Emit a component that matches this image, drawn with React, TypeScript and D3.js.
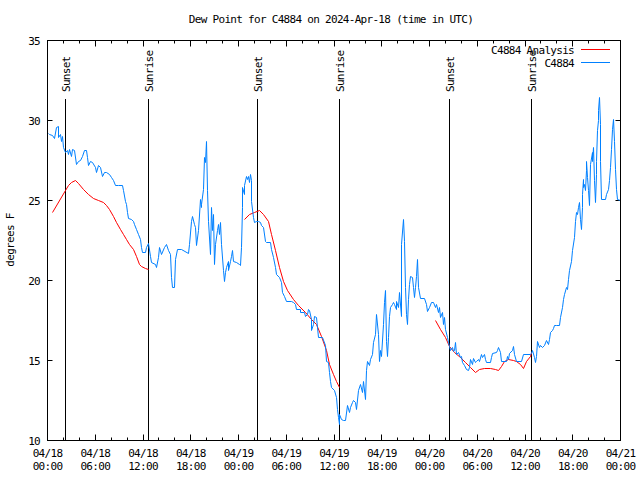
import React from 'react';
import * as d3 from 'd3';

const TITLE = 'Dew Point for C4884 on 2024-Apr-18 (time in UTC)';
const Y_LABEL = 'degrees F';
const START = Date.UTC(2024, 3, 18, 0, 0);
const END = Date.UTC(2024, 3, 21, 0, 0);
const Y_MIN = 10;
const Y_MAX = 35;
const yTicks = [10, 15, 20, 25, 30, 35];
const legendLabels = ['C4884 Analysis', 'C4884'];
const seriesColors = ['#ff0000', '#0080ff'];

const sunLabels = ['Sunset', 'Sunrise', 'Sunset', 'Sunrise', 'Sunset', 'Sunrise'];
const sunHours = [2.17, 12.6, 26.3, 36.6, 50.43, 60.73];

const stationHours = [
  0, 0.25, 0.54, 0.79, 1.01, 1.29, 1.38, 1.6, 1.72, 1.85,
  2.01, 2.22, 2.39, 2.55, 2.76, 2.98, 3.14, 3.3, 3.56, 3.81,
  4.06, 4.31, 4.56, 4.78, 4.94, 5.06, 5.28, 5.57, 5.91, 6.12,
  6.32, 6.62, 6.82, 7.04, 7.38, 7.67, 8.0, 8.29, 8.54, 8.83,
  9.39, 9.51, 9.68, 9.89, 9.97, 10.09, 10.43, 10.72, 10.93, 11.18,
  11.43, 11.6, 11.77, 11.85, 12.19,
  12.32, 12.6, 12.82, 13.03, 13.45, 13.66, 13.86, 14.07, 14.29, 14.58,
  14.83, 15.12, 15.33, 15.54, 15.67, 15.92, 16.08, 16.25, 16.8, 17.63,
  17.76, 18.06, 18.18, 18.35, 18.51, 18.69, 18.89, 19.1, 19.23, 19.35,
  19.51, 19.64, 19.77, 19.89, 20.02, 20.19, 20.36, 20.52, 20.7, 20.82,
  20.95, 21.07, 21.24, 21.4, 21.53, 21.7, 21.86, 22.03, 22.15, 22.28,
  22.46, 22.62, 22.74, 22.91, 23.08, 23.21, 23.37, 23.71, 24.04, 24.22,
  24.29, 24.38, 24.47, 24.63, 24.75, 24.88, 25.04, 25.17, 25.3, 25.47,
  25.55, 25.63, 25.8, 25.89, 26.14, 26.43, 26.73, 26.89, 27.14, 27.31,
  27.48, 27.9, 28.11, 28.31, 28.53, 28.74, 29.07, 29.28, 29.44, 29.69,
  30.0, 30.62, 30.82, 31.12, 31.25, 31.67, 31.79, 32.17, 32.33, 32.58,
  32.76, 32.92, 33.05, 33.17, 33.34, 33.51, 33.68, 33.84, 33.97, 34.52,
  34.81, 35.02, 35.22, 35.35, 35.52, 35.65, 35.94, 36.19, 36.35, 36.48,
  36.61, 36.69, 36.91, 37.11, 37.36, 37.61, 37.86, 38.04, 38.29, 38.45,
  38.62, 38.79, 39.04, 39.21, 39.46, 39.62, 39.84, 40.05, 40.17, 40.38,
  40.55, 40.8, 40.96, 41.18, 41.34, 41.47, 41.63, 41.81, 41.93, 42.13,
  42.26, 42.39, 42.51, 42.64, 42.76, 42.89, 43.06, 43.23, 43.39, 43.57,
  43.73, 43.82, 44.02, 44.23, 44.36, 44.48, 44.61, 44.74, 44.86, 44.99,
  45.15, 45.28, 45.4, 45.58, 45.74, 45.91, 46.03, 46.16, 46.33, 46.41,
  46.58, 46.75, 47.37, 47.59, 47.71, 47.92, 48.22, 48.42, 48.63, 48.84,
  49.05, 49.17, 49.35, 49.51, 49.67, 49.85, 50.01, 50.18, 50.35,
  50.43, 50.6, 50.77, 50.93, 51.11, 51.23, 51.36, 51.61, 51.77, 51.94,
  52.11, 52.36, 52.61, 52.78, 52.94, 53.12, 53.28, 53.44, 53.66, 53.87,
  54.07, 54.28, 54.45, 54.62, 54.79, 54.95, 55.13, 55.54, 55.71, 55.88,
  56.3, 56.46, 56.64, 56.8, 56.96, 57.55, 57.72, 57.89, 58.05, 58.31,
  58.47, 58.6, 58.81, 59.53, 59.81, 60.57, 60.78, 60.91, 61.07, 61.24,
  61.41, 61.57, 61.74, 61.91, 62.16, 62.41, 62.67, 62.83, 62.99, 63.17,
  63.33, 63.5, 63.67, 63.92, 64.25, 64.43, 64.59, 64.75, 64.93, 65.09,
  65.26, 65.43, 65.59, 65.76, 65.93, 66.1, 66.22, 66.35, 66.51, 66.64,
  66.76, 66.89, 67.01, 67.1, 67.19, 67.27, 67.35, 67.44, 67.52, 67.61,
  67.7, 67.77, 67.9, 68.02, 68.2, 68.36, 68.45, 68.52, 68.61, 68.74,
  68.86, 68.95, 69.03, 69.12, 69.2, 69.28, 69.37, 69.45, 69.53, 70.03,
  70.21, 70.37, 70.54, 70.66, 70.79, 70.91, 71.04, 71.17, 71.29, 71.47,
  71.59, 71.88,
];

const stationValues = [
  29.23, 29.13, 29.08, 28.92, 29.58, 29.63, 28.96, 29.13, 28.75, 29.06,
  28.33, 28.02, 28.17, 27.92, 28.23, 27.81, 28.23, 28.17, 27.29, 27.5,
  27.56, 27.81, 28.13, 28.17, 27.71, 27.19, 27.44, 27.39, 27.08, 26.77,
  27.19, 27.08, 26.56, 26.81, 26.77, 26.67, 26.46, 26.25, 25.94, 25.94,
  25.94, 25.63, 25.0, 24.79, 24.27, 23.92, 23.86, 23.69, 23.54, 23.23,
  22.92, 22.61, 22.08, 21.77, 21.77,
  22.08, 22.33, 21.56, 21.14, 21.04, 20.83, 21.46, 22.08, 21.67, 22.08,
  22.29, 21.88, 21.67, 20.21, 19.58, 19.58, 21.36, 21.98, 21.98, 21.73,
  22.29, 23.75, 24.0, 23.54, 23.33, 22.19, 23.13, 25.11, 24.58, 24.79,
  25.73, 27.71, 27.39, 28.75, 25.63, 23.75, 21.67, 24.58, 23.13, 24.17,
  21.04, 22.29, 23.13, 23.54, 22.92, 23.64, 22.29, 20.63, 20.0, 20.52,
  20.83, 21.21, 20.63, 21.25, 21.56, 21.88, 21.25, 21.14, 21.04, 20.94,
  22.08, 24.58, 25.83, 25.42, 25.94, 26.56, 26.36, 26.56, 26.14, 26.63,
  26.25, 25.0, 23.96, 23.64, 23.71, 23.75, 23.64, 23.44, 23.33, 22.5,
  22.39, 22.39, 21.98, 21.46, 20.83, 20.42, 20.21, 19.89, 19.27, 19.06,
  18.75, 18.75, 18.64, 18.54, 18.23, 18.23, 18.02, 18.02, 17.81, 17.92,
  18.23, 18.17, 17.61, 16.88, 17.29, 17.81, 17.71, 17.08, 16.46, 16.46,
  15.94, 15.0, 14.89, 14.27, 13.75, 13.33, 13.13, 12.71, 11.98, 11.46,
  11.04, 11.67, 11.36, 11.29, 11.29, 12.19, 11.77, 12.08, 12.39, 12.54,
  12.39, 11.98, 13.13, 13.54, 13.02, 13.75, 12.61, 14.38, 15.0, 14.69,
  15.11, 15.42, 16.14, 16.67, 17.92, 16.67, 15.0, 15.63, 15.31, 17.29,
  18.64, 19.38, 16.25, 15.31, 16.46, 17.81, 18.33, 18.54, 18.64, 18.54,
  18.23, 18.75, 18.33, 19.27, 17.81, 22.29, 23.86, 22.5, 19.58, 17.92,
  17.29, 18.86, 19.79, 20.31, 20.21, 19.58, 18.96, 19.58, 20.31, 21.36,
  19.58, 18.92, 18.92, 18.54, 18.08, 18.33, 18.64, 18.64, 18.33, 18.54,
  18.02, 18.33, 17.71, 18.02, 17.29, 17.71, 16.98, 16.46, 16.14,
  15.92, 15.63, 15.83, 15.58, 15.63, 16.14, 15.42, 15.52, 15.21, 15.31,
  14.89, 14.69, 14.48, 14.38, 14.58, 15.11, 14.79, 15.17, 14.89, 15.0,
  15.11, 15.0, 15.38, 15.25, 15.38, 15.11, 14.89, 14.89, 15.21, 15.46,
  15.52, 15.67, 15.83, 15.52, 15.0, 15.0, 15.31, 15.11, 15.46, 15.63,
  15.89, 15.42, 15.0, 15.0, 15.38, 15.42, 15.46, 15.63, 15.21, 14.89,
  15.31, 16.25, 15.83, 15.94, 15.83, 15.94, 16.29, 16.04, 16.36, 16.77,
  16.88, 17.04, 17.19, 17.25, 17.19, 17.71, 18.33, 18.86, 19.17, 19.58,
  19.48, 20.11, 20.63, 21.25, 21.88, 22.71, 23.75, 24.27, 24.17, 24.58,
  24.89, 23.86, 23.23, 24.58, 25.42, 26.36, 25.83, 26.04, 25.63, 26.88,
  27.5, 26.46, 25.63, 24.69, 27.29, 28.02, 27.5, 28.33, 26.25, 24.89,
  26.67, 27.5, 29.38, 30.0, 30.63, 31.46, 29.79, 27.5, 25.11, 25.11,
  25.42, 25.73, 26.25, 27.08, 28.23, 29.48, 30.11, 28.75, 26.98, 25.73,
  25.11, 25.06,
];

const analysisHours1 = [0.54, 2.14, 2.55, 2.98, 3.48, 3.81, 4.44, 5.06, 5.69, 6.32, 6.95, 7.38, 7.79, 8.21, 8.63, 9.05, 9.46, 9.89, 10.3, 10.72, 11.15, 11.47, 11.77, 12.19, 12.6];
const analysisValues1 = [24.31, 25.63, 26.0, 26.14, 26.25, 26.08, 25.73, 25.42, 25.17, 25.04, 24.89, 24.69, 24.48, 24.06, 23.64, 23.23, 22.92, 22.61, 22.29, 21.98, 21.56, 21.04, 20.89, 20.79, 20.73];
const analysisHours2 = [24.63, 25.38, 26.01, 26.55, 27.06, 27.68, 28.11, 28.53, 29.03, 29.57, 30.12, 30.82, 31.45, 32.3, 33.14, 33.76, 34.39, 35.02, 35.43, 35.85, 36.28, 36.6];
const analysisValues2 = [23.86, 24.17, 24.27, 24.38, 24.17, 23.75, 22.92, 21.88, 20.83, 20.0, 19.38, 18.86, 18.44, 18.02, 17.61, 17.29, 16.56, 15.63, 14.79, 14.17, 13.75, 13.36];
const analysisHours3 = [48.67, 49.26, 49.89, 50.51, 51.14, 51.77, 52.4, 53.03, 53.66, 54.28, 54.91, 55.54, 56.17, 56.67, 57.01, 57.42, 57.84, 58.47, 58.89, 59.31, 59.72, 60.15, 60.57, 60.78];
const analysisValues3 = [17.56, 16.98, 16.46, 15.88, 15.52, 15.21, 14.89, 14.58, 14.31, 14.48, 14.54, 14.52, 14.48, 14.42, 14.63, 15.0, 15.11, 15.04, 15.0, 14.79, 14.54, 14.96, 15.31, 15.52];

const FONT = "'DejaVu Sans Mono', 'Liberation Mono', monospace";

const toDate = (h: number) => new Date(START + h * 3600 * 1000);

export default function App() {
  const W = 640;
  const H = 480;
  const left = 47.5;
  const right = 620.5;
  const top = 40.5;
  const bottom = 440.5;

  const x = d3.scaleUtc().domain([new Date(START), new Date(END)]).range([left, right]);
  const y = d3.scaleLinear().domain([Y_MIN, Y_MAX]).range([bottom, top]);

  const majorTicks = d3.utcHour.every(6)!.range(new Date(START), new Date(END + 1));
  const minorTicks = d3.utcHour.every(2)!.range(new Date(START), new Date(END + 1));
  const fmtDate = d3.utcFormat('%m/%d');
  const fmtTime = d3.utcFormat('%H:%M');

  const line = d3
    .line<[number, number]>()
    .x((d) => Math.round(x(toDate(d[0]))) + 0.5)
    .y((d) => Math.round(y(d[1])) + 0.5);

  const stationPts: [number, number][] = stationHours.map((h, i) => [h, stationValues[i]]);
  const analysisSegs: [number, number][][] = [
    analysisHours1.map((h, i) => [h, analysisValues1[i]] as [number, number]),
    analysisHours2.map((h, i) => [h, analysisValues2[i]] as [number, number]),
    analysisHours3.map((h, i) => [h, analysisValues3[i]] as [number, number]),
  ];

  const textStyle: React.CSSProperties = { fontFamily: FONT, fontSize: 11, letterSpacing: -0.7 };

  return (
    <svg
      width={W}
      height={H}
      style={{ position: 'absolute', left: 0, top: 0, background: '#fff' }}
      xmlns="http://www.w3.org/2000/svg"
    >
      <rect x={0} y={0} width={W} height={H} fill="#fff" />
      <text x={331} y={23} textAnchor="middle" style={textStyle} fill="#000">
        {TITLE}
      </text>
      <text
        transform={`translate(14,240) rotate(-90)`}
        textAnchor="middle"
        style={textStyle}
        fill="#000"
      >
        {Y_LABEL}
      </text>
      {yTicks.map((t) => {
        const yy = Math.floor(y(t)) + 0.5;
        return (
          <g key={'y' + t}>
            <line x1={left} x2={left + 5} y1={yy} y2={yy} stroke="#000" />
            <line x1={right - 5} x2={right} y1={yy} y2={yy} stroke="#000" />
            <text x={40} y={y(t) + 4} textAnchor="end" style={textStyle} fill="#000">
              {t}
            </text>
          </g>
        );
      })}
      {minorTicks.map((t, i) => {
        const xx = Math.floor(x(t)) + 0.5;
        return (
          <g key={'mx' + i}>
            <line x1={xx} x2={xx} y1={bottom} y2={bottom - 3} stroke="#000" />
            <line x1={xx} x2={xx} y1={top} y2={top + 3} stroke="#000" />
          </g>
        );
      })}
      {majorTicks.map((t, i) => {
        const xx = Math.floor(x(t)) + 0.5;
        return (
          <g key={'x' + i}>
            <line x1={xx} x2={xx} y1={bottom} y2={bottom - 6} stroke="#000" />
            <line x1={xx} x2={xx} y1={top} y2={top + 6} stroke="#000" />
            <text x={x(t)} y={457} textAnchor="middle" style={textStyle} fill="#000">
              {fmtDate(t)}
            </text>
            <text x={x(t)} y={470} textAnchor="middle" style={textStyle} fill="#000">
              {fmtTime(t)}
            </text>
          </g>
        );
      })}
      {sunHours.map((h, i) => {
        const xx = Math.round(x(toDate(h))) + 0.5;
        return (
          <g key={'sun' + i}>
            <line x1={xx} x2={xx} y1={99} y2={bottom} stroke="#000" />
            <text
              transform={`translate(${xx + 4},92) rotate(-90)`}
              textAnchor="start"
              style={textStyle}
              fill="#000"
            >
              {sunLabels[i]}
            </text>
          </g>
        );
      })}
      {analysisSegs.map((seg, i) => (
        <path key={'a' + i} d={line(seg) || ''} fill="none" stroke={seriesColors[0]} strokeWidth={1} />
      ))}
      <path d={line(stationPts) || ''} fill="none" stroke={seriesColors[1]} strokeWidth={1} />
      {legendLabels.map((lab, i) => {
        const yy = 49.5 + i * 13;
        return (
          <g key={'lg' + i}>
            <text x={574} y={yy + 4} textAnchor="end" style={textStyle} fill="#000">
              {lab}
            </text>
            <line x1={581} x2={610} y1={yy} y2={yy} stroke={seriesColors[i]} />
          </g>
        );
      })}
      <rect x={left} y={top} width={right - left} height={bottom - top} fill="none" stroke="#000" />
    </svg>
  );
}
